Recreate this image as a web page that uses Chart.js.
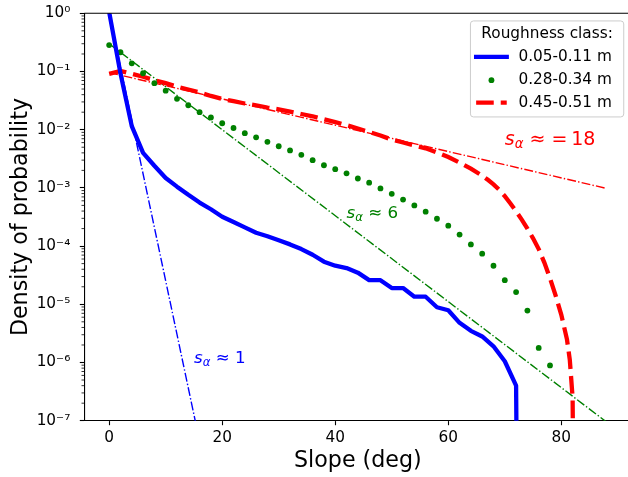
<!DOCTYPE html>
<html><head><meta charset="utf-8">
<script src="https://cdn.jsdelivr.net/npm/chart.js@4.4.0/dist/chart.umd.min.js"></script>
<style>html,body{margin:0;padding:0;background:#fff;overflow:hidden;width:628px;height:477px}canvas{display:block}</style>
</head><body>
<canvas id="c" width="628" height="477" style="width:628px;height:477px"></canvas>
<script>
// ---- data ----
const xTicks = [0, 20, 40, 60, 80];
const xAxisMin = -4.4, xAxisVisibleMax = 91.8, xAxisFullMax = 92.4;
const yTickValues = [1e-7, 1e-6, 1e-5, 1e-4, 1e-3, 1e-2, 1e-1, 1];
const yTickLabels = ['10⁻⁷','10⁻⁶','10⁻⁵','10⁻⁴','10⁻³','10⁻²','10⁻¹','10⁰'];
const xTitle = 'Slope (deg)';
const yTitle = 'Density of probability';
const legendTitle = 'Roughness class:';
const seriesNames = ['0.05-0.11 m', '0.28-0.34 m', '0.45-0.51 m'];

const blueSlope = [0,2,4,6,8,10,12,14,16,18,20,22,24,26,28,30,32,34,36,38,40,42,44,46,48,50,52,54,56,58,60,62,64,66,68,70,72,74];
const blueDensity = [1.05,0.093,0.0115,0.0040,0.0024,0.00148,0.00105,7.6e-4,5.6e-4,4.3e-4,3.2e-4,2.6e-4,2.1e-4,1.7e-4,1.48e-4,1.26e-4,1.07e-4,8.9e-5,7.1e-5,5.4e-5,4.6e-5,4.2e-5,3.5e-5,2.6e-5,2.6e-5,1.9e-5,1.9e-5,1.35e-5,1.35e-5,8.9e-6,7.9e-6,4.8e-6,3.5e-6,2.8e-6,1.9e-6,1.05e-6,4.0e-7,1e-30];

const greenSlope = [0,2,4,6,8,10,12,14,16,18,20,22,24,26,28,30,32,34,36,38,40,42,44,46,48,50,52,54,56,58,60,62,64,66,68,70,72,74,76,78];
const greenDensity = [0.285,0.214,0.138,0.0933,0.0631,0.0468,0.0339,0.0263,0.0200,0.0162,0.0129,0.0107,0.0087,0.0074,0.0062,0.0052,0.0044,0.0037,0.0030,0.00245,0.0021,0.00178,0.00145,0.00123,9.8e-4,7.9e-4,6.3e-4,5.0e-4,3.9e-4,2.95e-4,2.24e-4,1.58e-4,1.07e-4,7.4e-5,4.6e-5,2.6e-5,1.62e-5,7.8e-6,1.78e-6,8.9e-7];

const redSlope = [0,2,4,6,8,10,12,14,16,18,20,22,24,26,28,30,32,34,36,38,40,42,44,46,48,50,52,54,56,58,60,62,64,66,67,68,69,70,71,72,73,74,75,76,77,78,79,80,81,81.5,82,84];
const redDensity = [0.0912,0.102,0.0912,0.0813,0.0708,0.0631,0.0550,0.0490,0.0437,0.0380,0.0339,0.0309,0.0282,0.0263,0.0240,0.0224,0.0204,0.0186,0.0170,0.0151,0.0135,0.0120,0.0105,0.00912,0.00794,0.00676,0.00603,0.00537,0.00479,0.00407,0.00339,0.00272,0.00214,0.00162,0.00138,0.00115,9.3e-4,7.2e-4,5.4e-4,3.98e-4,2.85e-4,2.0e-4,1.36e-4,8.9e-5,5.2e-5,2.8e-5,1.41e-5,6.6e-6,2.5e-6,1.12e-6,2.5e-7,1e-30];

const blueFitSlope = [0, 16];
const blueFitDensity = [1.0, 4.4e-8];
const greenFitSlope = [0, 88];
const greenFitDensity = [0.30, 9.5e-8];
const redFitSlope = [0, 88];
const redFitDensity = [0.096, 9.8e-4];

const fitLabelText = [' ≈ 1', ' ≈ 6', ' ≈ =\u200918'];
const fitLabelSlope = [15, 42, 70];
const fitLabelDensity = [1e-6, 3e-4, 5.5e-3];

// ---- styling ----
const BLUE = '#0000ff', GREEN = '#008000', RED = '#ff0000';
const FONT = '"DejaVu Sans", sans-serif';
const pts = (xs, ys) => xs.map((x, i) => ({x: x, y: ys[i]}));
const DASHDOT = [8.9, 2.2, 1.4, 2.2];
const RED_DASH = [17.6, 7];

const deco = {
  id: 'deco',
  afterDraw(chart) {
    const ctx = chart.ctx, ca = chart.chartArea, ys = chart.scales.y, xs = chart.scales.x;
    const axLeft = xs.getPixelForValue(xAxisMin), axRight = xs.getPixelForValue(xAxisFullMax);
    ctx.save();
    // top spine
    ctx.strokeStyle = '#000'; ctx.lineWidth = 1.1;
    ctx.beginPath(); ctx.moveTo(ca.left, ca.top); ctx.lineTo(ca.right, ca.top); ctx.stroke();
    // minor log ticks
    ctx.lineWidth = 0.8;
    for (let k = -7; k < 0; k++) {
      for (let m = 2; m < 10; m++) {
        const py = ys.getPixelForValue(m * Math.pow(10, k));
        ctx.beginPath(); ctx.moveTo(ca.left - 2.8, py); ctx.lineTo(ca.left, py); ctx.stroke();
      }
    }
    // axis titles
    ctx.fillStyle = '#000';
    ctx.font = '22.2px ' + FONT;
    ctx.textAlign = 'center'; ctx.textBaseline = 'alphabetic';
    ctx.fillText(xTitle, (axLeft + axRight) / 2, 467);
    ctx.save();
    ctx.translate(26.6, (ca.top + ca.bottom) / 2);
    ctx.rotate(-Math.PI / 2);
    ctx.fillText(yTitle, 0, 0);
    ctx.restore();

    // fit annotations
    const colors = [BLUE, GREEN, RED];
    const sizes = [16.7, 16.7, 19];
    for (let i = 0; i < 3; i++) {
      const x = xs.getPixelForValue(fitLabelSlope[i]);
      const y = ys.getPixelForValue(fitLabelDensity[i]);
      const s = sizes[i];
      ctx.fillStyle = colors[i]; ctx.textAlign = 'left'; ctx.textBaseline = 'alphabetic';
      ctx.font = 'italic ' + s + 'px ' + FONT;
      ctx.fillText('s', x, y);
      let w = ctx.measureText('s').width;
      ctx.font = 'italic ' + (s * 0.7) + 'px ' + FONT;
      ctx.fillText('α', x + w, y + s * 0.18);
      w += ctx.measureText('α').width;
      ctx.font = s + 'px ' + FONT;
      ctx.fillText(fitLabelText[i], x + w, y);
    }

    // legend
    const lw = 153.3, lh = 96, pad = 7.65;
    const lx = axRight - pad - lw, ly = ca.top + pad;
    ctx.beginPath();
    ctx.roundRect(lx, ly, lw, lh, 3);
    ctx.fillStyle = 'rgba(255,255,255,0.8)'; ctx.fill();
    ctx.strokeStyle = '#cccccc'; ctx.lineWidth = 1; ctx.stroke();
    ctx.fillStyle = '#000'; ctx.font = '15.3px ' + FONT;
    ctx.textAlign = 'center'; ctx.textBaseline = 'middle';
    ctx.fillText(legendTitle, lx + lw / 2, ly + 12.8);
    const rowY = [ly + 36, ly + 59.2, ly + 81.6];
    const hx0 = lx + 5.7, hx1 = lx + 36.3;
    ctx.strokeStyle = BLUE; ctx.lineWidth = 4.3; ctx.lineCap = 'square'; ctx.setLineDash([]);
    ctx.beginPath(); ctx.moveTo(hx0, rowY[0]); ctx.lineTo(hx1, rowY[0]); ctx.stroke();
    ctx.fillStyle = GREEN;
    ctx.beginPath(); ctx.arc((hx0 + hx1) / 2, rowY[1], 2.9, 0, Math.PI * 2); ctx.fill();
    ctx.strokeStyle = RED; ctx.lineWidth = 4.3; ctx.lineCap = 'butt'; ctx.setLineDash(RED_DASH);
    ctx.beginPath(); ctx.moveTo(hx0, rowY[2]); ctx.lineTo(hx1, rowY[2]); ctx.stroke();
    ctx.setLineDash([]);
    ctx.fillStyle = '#000'; ctx.textAlign = 'left';
    for (let i = 0; i < 3; i++) ctx.fillText(seriesNames[i], lx + 48, rowY[i]);
    ctx.restore();
  }
};

new Chart(document.getElementById('c'), {
  type: 'scatter',
  data: {
    datasets: [
      {label: seriesNames[0], data: pts(blueSlope, blueDensity), showLine: true, borderColor: BLUE, borderWidth: 4.3, pointRadius: 0, borderJoinStyle: 'round', clip: 0, tension: 0},
      {label: seriesNames[1], data: pts(greenSlope, greenDensity), showLine: false, pointRadius: 2.9, pointBackgroundColor: GREEN, pointBorderWidth: 0, borderColor: GREEN, clip: 0},
      {label: seriesNames[2], data: pts(redSlope, redDensity), showLine: true, borderColor: RED, borderWidth: 4.3, borderDash: RED_DASH, borderCapStyle: 'butt', pointRadius: 0, clip: 0, tension: 0},
      {label: 'fit1', data: pts(blueFitSlope, blueFitDensity), showLine: true, borderColor: BLUE, borderWidth: 1.4, borderDash: DASHDOT, pointRadius: 0, clip: 0},
      {label: 'fit6', data: pts(greenFitSlope, greenFitDensity), showLine: true, borderColor: GREEN, borderWidth: 1.4, borderDash: DASHDOT, pointRadius: 0, clip: 0},
      {label: 'fit18', data: pts(redFitSlope, redFitDensity), showLine: true, borderColor: RED, borderWidth: 1.4, borderDash: DASHDOT, pointRadius: 0, clip: 0}
    ]
  },
  options: {
    responsive: false, animation: false, devicePixelRatio: 1,
    layout: {autoPadding: false, padding: {top: 13.3, right: 0, left: 0, bottom: 0}},
    plugins: {legend: {display: false}, tooltip: {enabled: false}},
    scales: {
      x: {
        type: 'linear', position: 'bottom', min: xAxisMin, max: xAxisVisibleMax,
        afterBuildTicks: s => { s.ticks = xTicks.map(v => ({value: v})); },
        afterFit: s => { s.height = 56.3; s.paddingLeft = 0; s.paddingRight = 0; },
        ticks: {color: '#000', font: {family: FONT, size: 15.3}, padding: 3.5, maxRotation: 0, autoSkip: false, callback: v => String(v)},
        grid: {drawOnChartArea: false, drawTicks: true, tickLength: 4.5, tickWidth: 1.1, tickColor: '#000'},
        border: {display: true, color: '#000', width: 1.1}
      },
      y: {
        type: 'logarithmic', position: 'left', min: 1e-7, max: 1,
        afterBuildTicks: s => { s.ticks = yTickValues.map(v => ({value: v, major: true})); },
        afterFit: s => { s.width = 84.3; s.paddingTop = 0; s.paddingBottom = 0; },
        ticks: {color: '#000', font: {family: FONT, size: 15.3}, padding: 9.5, autoSkip: false, callback: (v, i) => yTickLabels[i]},
        grid: {drawOnChartArea: false, drawTicks: true, tickLength: 4.5, tickWidth: 1.1, tickColor: '#000'},
        border: {display: true, color: '#000', width: 1.1}
      }
    }
  },
  plugins: [deco]
});
</script>
</body></html>
